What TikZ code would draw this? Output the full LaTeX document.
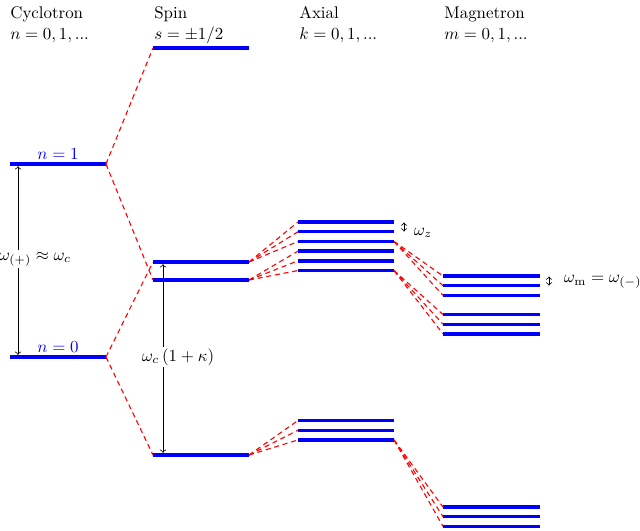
\documentclass[tikz,border=0pt]{standalone}
\begin{document}
\begin{tikzpicture}[x=0.592pt,y=-0.592pt,
  lvl/.style={blue, line width=2pt},
  conn/.style={red, line width=0.65pt, dash pattern=on 3pt off 2.2pt},
  gap/.style={<->, line width=0.45pt},
  hdr/.style={anchor=base west, inner sep=0pt},
  lab/.style={fill=white, inner sep=1pt}]
\useasboundingbox (0,0) rectangle (640,530);

% headers
\node[hdr] (hc)  at (10,18)  {Cyclotron};
\node[hdr] (hcn) at (10,39)  {$n=0,1,...$};
\node[hdr] (hs)  at (154,18) {Spin};
\node[hdr] (hsn) at (154,39) {$s=\pm1/2$};
\node[hdr] (ha)  at (299,18) {Axial};
\node[hdr] (han) at (299,39) {$k=0,1,...$};
\node[hdr] (hm)  at (444,18) {Magnetron};
\node[hdr] (hmn) at (444,39) {$m=0,1,...$};

% cyclotron levels
\foreach \n/\y in {1/164, 0/357}{
  \coordinate (c\n-l) at (10,\y);
  \coordinate (c\n-r) at (106,\y);
  \draw[lvl] (c\n-l) -- (c\n-r);
}
\node[blue, inner sep=0pt, anchor=base] (n1lab) at (58,159) {$n=1$};
\node[blue, inner sep=0pt, anchor=base] (n0lab) at (58,352) {$n=0$};

% spin levels
\foreach \n/\y in {A/48, B/280, C/262, D/455}{
  \coordinate (s\n-l) at (153,\y);
  \coordinate (s\n-r) at (249,\y);
  \draw[lvl] (s\n-l) -- (s\n-r);
}

% axial levels
\foreach \n/\y in {1/222, 2/231.7, 3/241.4, 4/251.1, 5/260.8, 6/270.5, 7/420.5, 8/430.2, 9/439.9}{
  \coordinate (a\n-l) at (298,\y);
  \coordinate (a\n-r) at (394,\y);
  \draw[lvl] (a\n-l) -- (a\n-r);
}

% magnetron levels
\foreach \n/\y in {1/276, 2/285.7, 3/295.4, 4/314.5, 5/324.2, 6/333.9, 7/507, 8/516.7, 9/526.4}{
  \coordinate (m\n-l) at (443,\y);
  \coordinate (m\n-r) at (540,\y);
  \draw[lvl] (m\n-l) -- (m\n-r);
}

% connectors cyclotron -> spin
\draw[conn] (c1-r) -- (sA-l);
\draw[conn] (c1-r) -- (sB-l);
\draw[conn] (c0-r) -- (sC-l);
\draw[conn] (c0-r) -- (sD-l);

% spin -> axial
\foreach \k in {1,2,3}{\draw[conn] (sC-r) -- (a\k-l);}
\foreach \k in {4,5,6}{\draw[conn] (sB-r) -- (a\k-l);}
\foreach \k in {7,8,9}{\draw[conn] (sD-r) -- (a\k-l);}

% axial -> magnetron
\foreach \k in {1,2,3}{\draw[conn] (a3-r) -- (m\k-l);}
\foreach \k in {4,5,6}{\draw[conn] (a6-r) -- (m\k-l);}
\foreach \k in {7,8,9}{\draw[conn] (a9-r) -- (m\k-l);}

% cyclotron gap
\coordinate (wp-t) at (18,164);
\coordinate (wp-b) at (18,357);
\draw[gap, shorten <=1.3pt, shorten >=1.3pt] (wp-t) -- (wp-b);
\node[lab] (wplab) at (35,259) {$\omega_{(+)}\approx\omega_c$};

% spin gap
\coordinate (wk-t) at (163,262);
\coordinate (wk-b) at (163,455);
\draw[gap, shorten <=1.3pt, shorten >=1.3pt] (wk-t) -- (wk-b);
\node[lab] (wklab) at (178,357) {$\omega_c\left(1+\kappa\right)$};

% axial gap
\coordinate (wz-t) at (404,222.5);
\coordinate (wz-b) at (404,231.5);
\draw[gap] (wz-t) -- (wz-b);
\node[anchor=west] (wzlab) at (408,233) {$\omega_z$};

% magnetron gap
\coordinate (wm-t) at (549,276.5);
\coordinate (wm-b) at (549,285.5);
\draw[gap] (wm-t) -- (wm-b);
\node[anchor=west] (wmlab) at (558,282) {$\omega_{\mathrm{m}}=\omega_{(-)}$};
\end{tikzpicture}
\end{document}
